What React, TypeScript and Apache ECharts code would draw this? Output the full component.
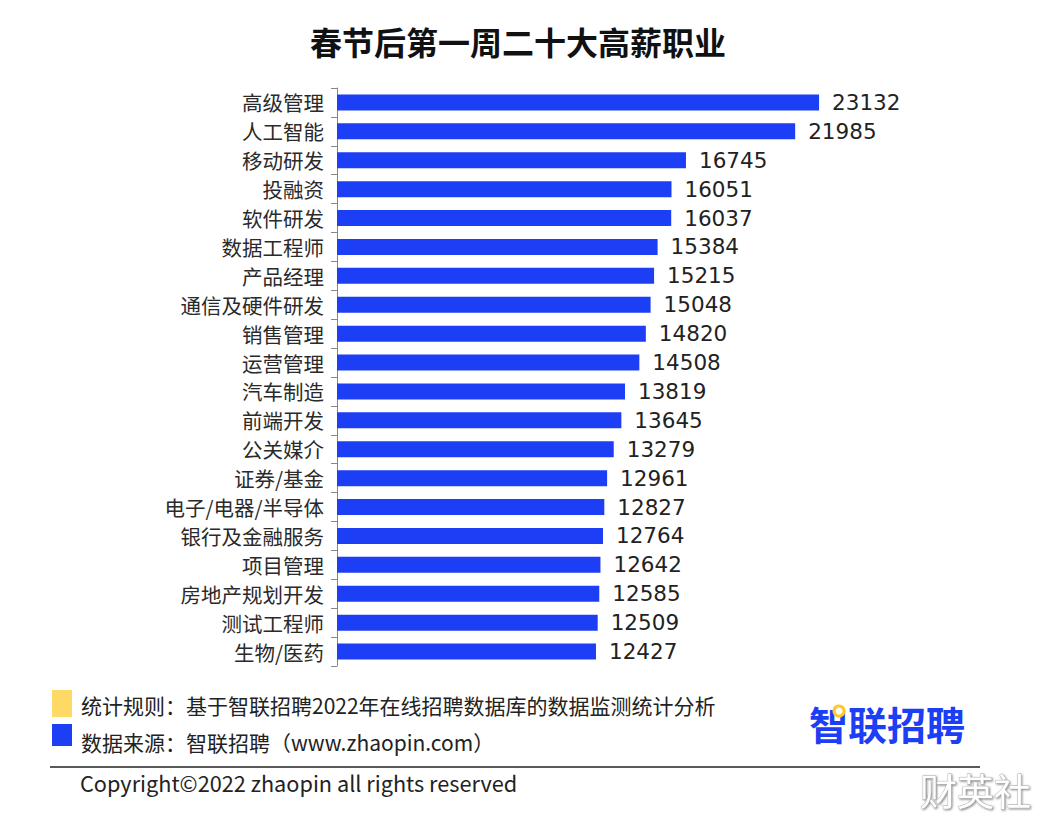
import React, { useEffect, useRef } from "react";
import * as echarts from "echarts";

const categories = [
  "高级管理", "人工智能", "移动研发", "投融资", "软件研发", "数据工程师", "产品经理",
  "通信及硬件研发", "销售管理", "运营管理", "汽车制造", "前端开发", "公关媒介", "证券/基金",
  "电子/电器/半导体", "银行及金融服务", "项目管理", "房地产规划开发", "测试工程师", "生物/医药",
];
const salaries = [
  23132, 21985, 16745, 16051, 16037, 15384, 15215, 15048, 14820, 14508, 13819, 13645,
  13279, 12961, 12827, 12764, 12642, 12585, 12509, 12427,
];
const titleText = "春节后第一周二十大高薪职业";
const noteRule = "统计规则：基于智联招聘2022年在线招聘数据库的数据监测统计分析";
const noteSource = "数据来源：智联招聘（www.zhaopin.com）";
const copyright = "Copyright©2022 zhaopin all rights reserved";

const FONT = "'Noto Sans CJK SC', 'Noto Sans', sans-serif";
const NUM_FONT = "'DejaVu Sans', 'Noto Sans', sans-serif";
const BLUE = "#1c3ef5";

export default function App() {
  const ref = useRef<HTMLDivElement>(null);
  useEffect(() => {
    const chart = echarts.init(ref.current!, null, { renderer: "svg" });
    chart.setOption({
      animation: false,
      backgroundColor: "#ffffff",
      title: {
        text: titleText,
        left: 513,
        textAlign: "center",
        top: 20,
        textStyle: { fontFamily: FONT, fontSize: 32, fontWeight: "bold", color: "#111" },
      },
      grid: { left: 337, right: 195, top: 88, bottom: 166 },
      xAxis: {
        type: "value",
        min: 0,
        max: 25000,
        show: false,
      },
      yAxis: {
        type: "category",
        data: categories,
        inverse: true,
        axisLine: { show: true, lineStyle: { color: "#888", width: 1 } },
        axisTick: { show: true, length: 6, lineStyle: { color: "#888" } },
        axisLabel: { fontFamily: FONT, fontSize: 20.5, lineHeight: 22, color: "#2a2a2a", margin: 13 },
      },
      series: [
        {
          type: "bar",
          data: salaries,
          barWidth: 16,
          itemStyle: { color: BLUE },
          label: {
            show: true,
            position: "right",
            distance: 13,
            fontFamily: NUM_FONT,
            fontSize: 21.5,
            lineHeight: 22,
            color: "#222",
          },
        },
      ],
      graphic: [
        { type: "rect", shape: { x: 52, y: 690, width: 20, height: 27 }, style: { fill: "#ffd966" } },
        { type: "rect", shape: { x: 52, y: 724, width: 20, height: 22 }, style: { fill: BLUE } },
        {
          type: "text", x: 81, y: 705,
          style: { text: noteRule, fontFamily: FONT, fontSize: 21, fill: "#222", verticalAlign: "middle" },
        },
        {
          type: "text", x: 81, y: 742,
          style: { text: noteSource, fontFamily: FONT, fontSize: 21, fill: "#222", verticalAlign: "middle" },
        },
        { type: "line", shape: { x1: 50, y1: 767, x2: 980, y2: 767 }, style: { stroke: "#222", lineWidth: 1.5 } },
        {
          type: "text", x: 80, y: 782,
          style: { text: copyright, fontFamily: FONT, fontSize: 21.7, fill: "#222", verticalAlign: "middle" },
        },
        {
          type: "text", x: 809, y: 723,
          style: { text: "智联招聘", fontFamily: FONT, fontSize: 39, fontWeight: "bold", fill: BLUE, verticalAlign: "middle" },
        },
        { type: "circle", shape: { cx: 839, cy: 711, r: 5 }, style: { fill: "#fff", stroke: "#ffc928", lineWidth: 3 } },
        {
          type: "text", x: 920, y: 790,
          style: {
            text: "财英社", fontFamily: FONT, fontSize: 37, fill: "#ffffff",
            stroke: "#aaa", lineWidth: 0.8, verticalAlign: "middle",
            textShadowColor: "rgba(0,0,0,0.5)", textShadowBlur: 2, textShadowOffsetX: 1, textShadowOffsetY: 1,
          },
        },
      ],
    });
    return () => chart.dispose();
  }, []);
  return <div ref={ref} style={{ width: 1053, height: 832, margin: -8 }} />;
}
